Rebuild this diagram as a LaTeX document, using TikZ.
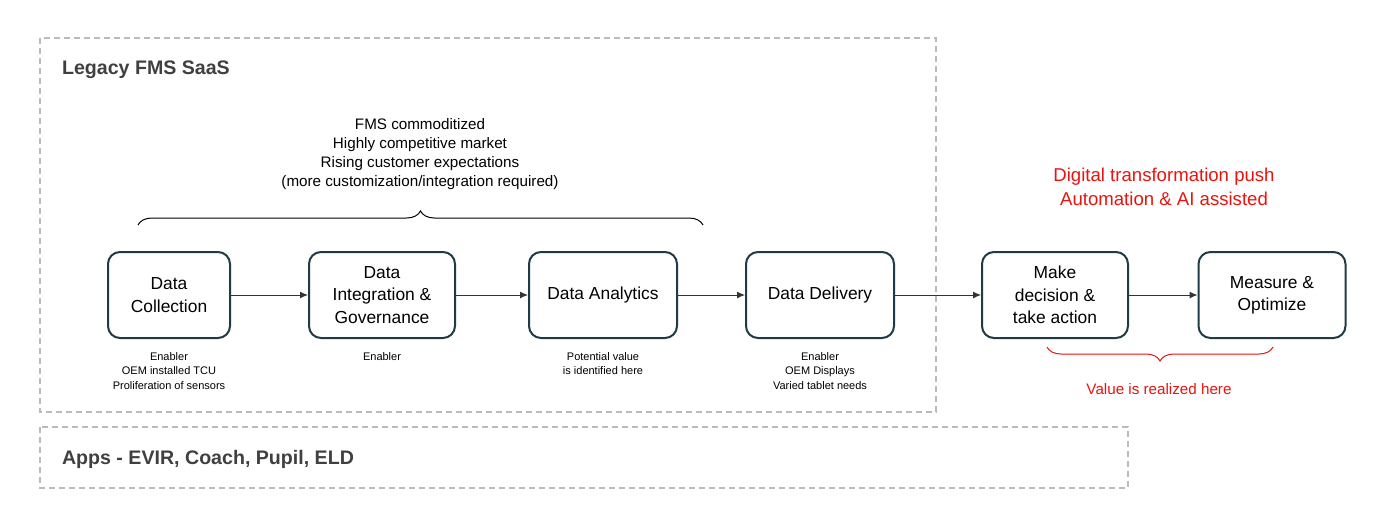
\documentclass[tikz,border=0pt]{standalone}
\usepackage{fontspec}
\setmainfont{Liberation Sans}
\usetikzlibrary{decorations.pathreplacing,arrows.meta}
\definecolor{boxc}{HTML}{1F3B45}
\definecolor{dashc}{HTML}{BBBBBB}
\definecolor{redc}{HTML}{E8140F}
\begin{document}
\begin{tikzpicture}[x=0.5pt,y=-0.5pt,
  box/.style={draw=boxc,line width=1pt,rounded corners=6pt,minimum width=#1*0.5pt,minimum height=43pt,align=center,font=\fontsize{8.7}{11.2}\selectfont,inner sep=1pt},
  dashbox/.style={draw=dashc,dash pattern=on 3pt off 2pt,line width=0.8pt},
  sub/.style={align=center,font=\fontsize{5.5}{7.3}\selectfont,anchor=north},
  arr/.style={-{Latex[length=4pt,width=3.5pt]},line width=0.5pt,draw=black!80},
  hdr/.style={font=\bfseries\fontsize{9.8}{12}\selectfont,anchor=west,text=black!75}]
\useasboundingbox (0,0) rectangle (1381,531);
\draw[dashbox] (40,38) rectangle (936,412);
\draw[dashbox] (40,427) rectangle (1128,488);
\node[hdr] (h1) at (55,70) {Legacy FMS SaaS};
\node[hdr] (h2) at (55,459) {Apps - EVIR, Coach, Pupil, ELD};
\node[align=center,font=\fontsize{7.6}{9.6}\selectfont] (t) at (420,154) {FMS commoditized\\Highly competitive market\\Rising customer expectations\\(more customization/integration required)};
\draw[decorate,decoration={brace,amplitude=7pt},line width=0.5pt] (138,225) -- (703,225);
\node[box=122] (b1) at (169,295) {Data\\Collection};
\node[box=146] (b2) at (382,295) {Data\\Integration \&\\Governance};
\node[box=148] (b3) at (603,295) {Data Analytics};
\node[box=148] (b4) at (820,295) {Data Delivery};
\node[box=146] (b5) at (1055,295) {Make\\decision \&\\take action};
\node[box=147] (b6) at (1272,295) {Measure \&\\Optimize};
\foreach \a/\b in {b1/b2,b2/b3,b3/b4,b4/b5,b5/b6} \draw[arr] (\a) -- (\b);
\node[sub] (s1) at (169,345) {Enabler\\OEM installed TCU\\Proliferation of sensors};
\node[sub] (s2) at (382,345) {Enabler};
\node[sub] (s3) at (603,345) {Potential value\\is identified here};
\node[sub] (s4) at (820,345) {Enabler\\OEM Displays\\Varied tablet needs};
\node[align=center,text=redc,font=\fontsize{9.3}{12}\selectfont] (r) at (1164,187) {Digital transformation push\\Automation \& AI assisted};
\draw[decorate,decoration={brace,amplitude=7pt,mirror},line width=0.5pt,draw=redc] (1047,347) -- (1273,347);
\node[text=redc,font=\fontsize{7.6}{9}\selectfont] (v) at (1159,389) {Value is realized here};
\end{tikzpicture}
\end{document}
